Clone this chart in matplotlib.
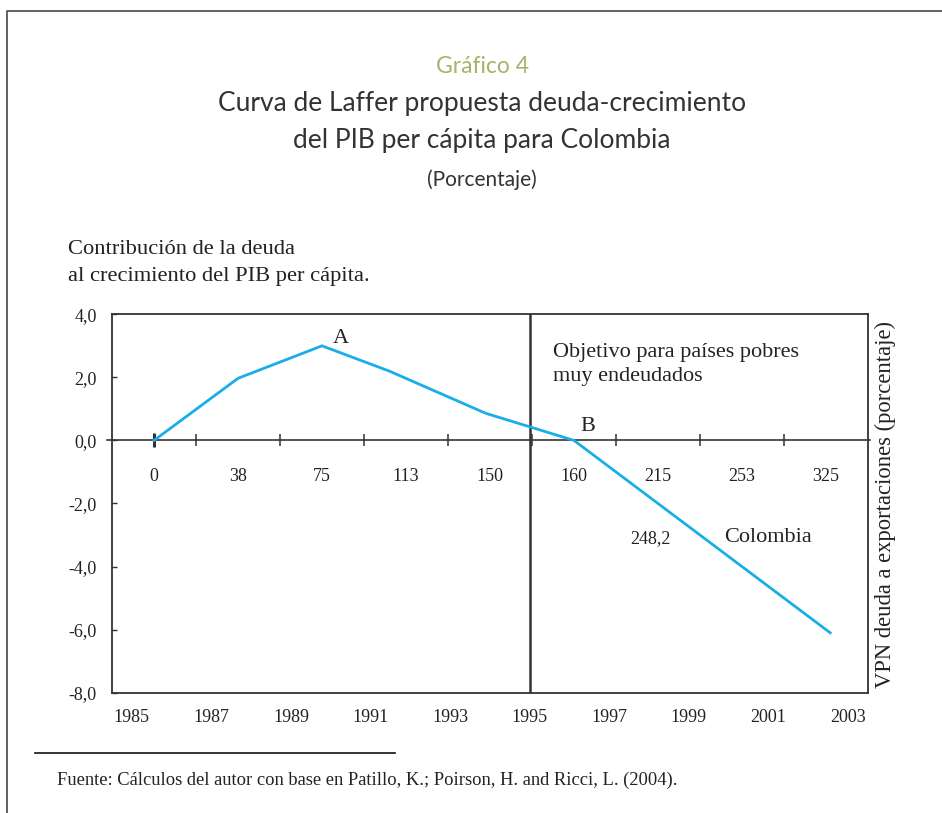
import matplotlib
matplotlib.use("Agg")
import matplotlib.pyplot as plt
from matplotlib.lines import Line2D

# ---------------- data ----------------
years = list(range(1985, 2004))
year_labels = [str(y) for y in years]
shown_years = years[::2]

debt_labels = ["0", "38", "75", "113", "150", "160", "215", "253", "325"]

# Laffer curve (position on debt-ratio category axis, contribution in %)
laffer_pos = [0.0, 1.0, 2.0, 2.8, 3.95, 5.0, 8.05]
laffer_val = [0.0, 1.97, 3.0, 2.2, 0.86, 0.0, -6.1]

yticks = [4, 2, 0, -2, -4, -6, -8]
ytick_labels = ["4,0", "2,0", "0,0", "-2,0", "-4,0", "-6,0", "-8,0"]

target_year = 1995

# ---------------- style ----------------
W, H = 942, 813
SERIF = ["Liberation Serif", "DejaVu Serif"]
TITLE_FONT = ["Lato", "DejaVu Sans"]
DARK = "#333333"
LINE_C = "#1aaee8"
GREEN = "#a3b56a"
TITLE_C = "#333333"

fig = plt.figure(figsize=(W / 100, H / 100), dpi=100)

def fx(px):
    return px / W

def fy(py):
    return 1 - py / H

ax = fig.add_axes([fx(112), fy(692.7), fx(868) - fx(112), fy(314.3) - fy(692.7)])
ax.set_xlim(-0.5, len(years) - 0.5)
ax.set_ylim(-8, 4)

for s in ax.spines.values():
    s.set_color(DARK)
    s.set_linewidth(1.3)

ax.set_xticks([years.index(y) for y in shown_years],
              labels=[str(y) for y in shown_years])
ax.tick_params(axis="x", length=0, pad=11.5, labelsize=13)
ax.set_yticks(yticks, labels=ytick_labels)
ax.tick_params(axis="y", direction="in", length=3.6, width=1, pad=11,
               labelsize=13, color=DARK)
for lab in ax.get_xticklabels() + ax.get_yticklabels():
    lab.set_fontfamily(SERIF)
    lab.set_color("#222222")

ax.axvline(years.index(target_year), color=DARK, lw=1.8)
ax.axhline(0, color=DARK, lw=1.2, xmin=-0.006, xmax=1.003, clip_on=False)

# secondary (debt ratio) axis drawn along y = 0
ax2 = ax.twiny()
ax2.set_xlim(-0.5, len(debt_labels) - 0.5)
for s in ax2.spines.values():
    s.set_visible(False)
ax2.spines["bottom"].set_position(("data", 0))
ax2.xaxis.set_ticks_position("bottom")
ax2.set_xticks(range(len(debt_labels)), labels=debt_labels)
ax2.set_xticks([i + 0.5 for i in range(len(debt_labels) - 1)], minor=True)
ax2.tick_params(axis="x", which="major", direction="inout", length=10,
                width=2.2, pad=14.5, labelsize=13, color=DARK)
ax2.tick_params(axis="x", which="minor", direction="inout", length=8.6,
                width=1.1, color=DARK)
for i, t in enumerate(ax2.xaxis.get_major_ticks()):
    if i > 0:
        t.tick1line.set_visible(False)
for lab in ax2.get_xticklabels():
    lab.set_fontfamily(SERIF)
    lab.set_color("#222222")

ax2.plot(laffer_pos, laffer_val, color=LINE_C, lw=2.0, solid_joinstyle="miter")

txt = dict(fontfamily=SERIF, color="#222222", va="baseline", ha="left")
ax2.text(2.13, 3.08, "A", fontsize=16, **txt)
ax2.text(5.07, 0.30, "B", fontsize=16, **txt)
ax2.text(4.746, 2.66, "Objetivo para países pobres", fontsize=16, **txt)
ax2.text(4.746, 1.89, "muy endeudados", fontsize=16, **txt)
ax2.text(6.786, -3.21, "Colombia", fontsize=16, **txt)
ax2.text(5.667, -3.26, "248,2", fontsize=13, **txt)

# axis captions
fig.text(fx(68), fy(254.5), "Contribución de la deuda", fontsize=16.2,
         fontfamily=SERIF, color="#222222", va="baseline")
fig.text(fx(68), fy(280.5), "al crecimiento del PIB per cápita.", fontsize=16.2,
         fontfamily=SERIF, color="#222222", va="baseline")
fig.text(fx(885), fy(504), "VPN deuda a exportaciones (porcentaje)", fontsize=16.3,
         fontfamily=SERIF, color="#222222", rotation=90, ha="center", va="center")

# titles
fig.text(fx(482), fy(73.3), "Gráfico 4", fontsize=16.5, fontfamily=TITLE_FONT,
         fontweight="normal", color=GREEN, ha="center", va="baseline")
fig.text(fx(482), fy(111), "Curva de Laffer propuesta deuda-crecimiento",
         fontsize=19, fontfamily=TITLE_FONT, fontweight="normal",
         color=TITLE_C, ha="center", va="baseline")
fig.text(fx(482), fy(148.3), "del PIB per cápita para Colombia",
         fontsize=19, fontfamily=TITLE_FONT, fontweight="normal",
         color=TITLE_C, ha="center", va="baseline")
fig.text(fx(482), fy(186), "(Porcentaje)", fontsize=15, fontfamily=TITLE_FONT,
         fontweight="normal", color=TITLE_C, ha="center", va="baseline")

# footer
fig.add_artist(Line2D([fx(35), fx(395)], [fy(752.5), fy(752.5)],
                      color="#111111", lw=1.2))
fig.text(fx(57), fy(785), "Fuente: Cálculos del autor con base en Patillo, K.; "
         "Poirson, H. and Ricci, L. (2004).", fontsize=13.3, fontfamily=SERIF,
         color="#222222", va="baseline")

# page frame
fig.add_artist(Line2D([fx(7), fx(7), 1.0], [0.0, fy(11.5), fy(11.5)],
                      color="#555555", lw=1.3))

fig.savefig("out.png", dpi=100)
